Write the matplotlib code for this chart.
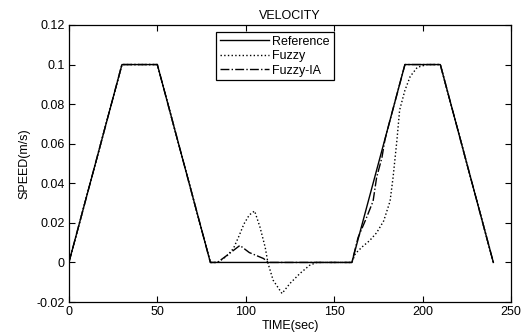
import numpy as np
import matplotlib.pyplot as plt

plt.rcParams['font.family'] = ['Liberation Sans', 'DejaVu Sans']

# Reference velocity profile
t_ref = [0, 30, 50, 80, 160, 190, 210, 240]
v_ref = [0.0, 0.1, 0.1, 0.0, 0.0, 0.1, 0.1, 0.0]

# Fuzzy controller response
t_fuzzy = [0, 30, 50, 80, 84, 89, 93, 96, 99, 102, 105, 108, 111, 112.6, 115.5,
           120.5, 125, 130.6, 136, 140, 160, 162, 166, 170, 174, 178, 181.6,
           183.3, 185.5, 187, 190, 193, 197, 202.5, 210, 240]
v_fuzzy = [0.0, 0.1, 0.1, 0.0, 0.0, 0.003, 0.007, 0.013, 0.0195, 0.024, 0.026,
           0.018, 0.0076, -0.0005, -0.009, -0.0157, -0.0106, -0.0056, -0.0015,
           0.0, 0.0, 0.0045, 0.008, 0.011, 0.015, 0.021, 0.031, 0.043, 0.062,
           0.077, 0.087, 0.094, 0.0986, 0.1, 0.1, 0.0]

# Fuzzy-IA controller response
t_fia = [0, 30, 50, 80, 84, 90, 96.7, 102, 106, 110, 113, 160, 163.5, 168,
         172, 174, 177, 178.7, 181.6, 190, 210, 240]
v_fia = [0.0, 0.1, 0.1, 0.0, 0.0, 0.004, 0.0086, 0.005, 0.0035, 0.002, 0.0,
         0.0, 0.0126, 0.022, 0.031, 0.043, 0.053, 0.062, 0.072, 0.1, 0.1, 0.0]

fig = plt.figure(figsize=(5.22, 3.33), dpi=100)
ax = fig.add_axes([0.132, 0.093, 0.847, 0.832])

ax.plot(t_ref, v_ref, 'k-', lw=1.0, label='Reference', zorder=3)
ax.plot(t_fuzzy, v_fuzzy, 'k:', lw=1.0, label='Fuzzy')
ax.plot(t_fia, v_fia, 'k-.', lw=1.0, label='Fuzzy-IA')

ax.set_xlim(0, 250)
ax.set_ylim(-0.02, 0.12)
ax.set_xticks([0, 50, 100, 150, 200, 250])
ax.set_yticks([-0.02, 0, 0.02, 0.04, 0.06, 0.08, 0.1, 0.12])
ax.set_yticklabels(['-0.02', '0', '0.02', '0.04', '0.06', '0.08', '0.1', '0.12'])
ax.tick_params(direction='in', top=True, right=True, labelsize=9, length=4, pad=3)
for s in ax.spines.values():
    s.set_linewidth(0.9)

ax.set_title('VELOCITY', fontsize=9, pad=4)
ax.set_xlabel('TIME(sec)', fontsize=9, labelpad=1)
ax.set_ylabel('SPEED(m/s)', fontsize=9, labelpad=4)

leg = ax.legend(loc='upper left', bbox_to_anchor=(0.333, 0.975), fontsize=9,
                fancybox=False, edgecolor='black', framealpha=1,
                handlelength=3.9, borderpad=0.3, labelspacing=0.2,
                handletextpad=0.3, borderaxespad=0)
leg.get_frame().set_linewidth(0.9)

fig.savefig('out.png', dpi=100)
